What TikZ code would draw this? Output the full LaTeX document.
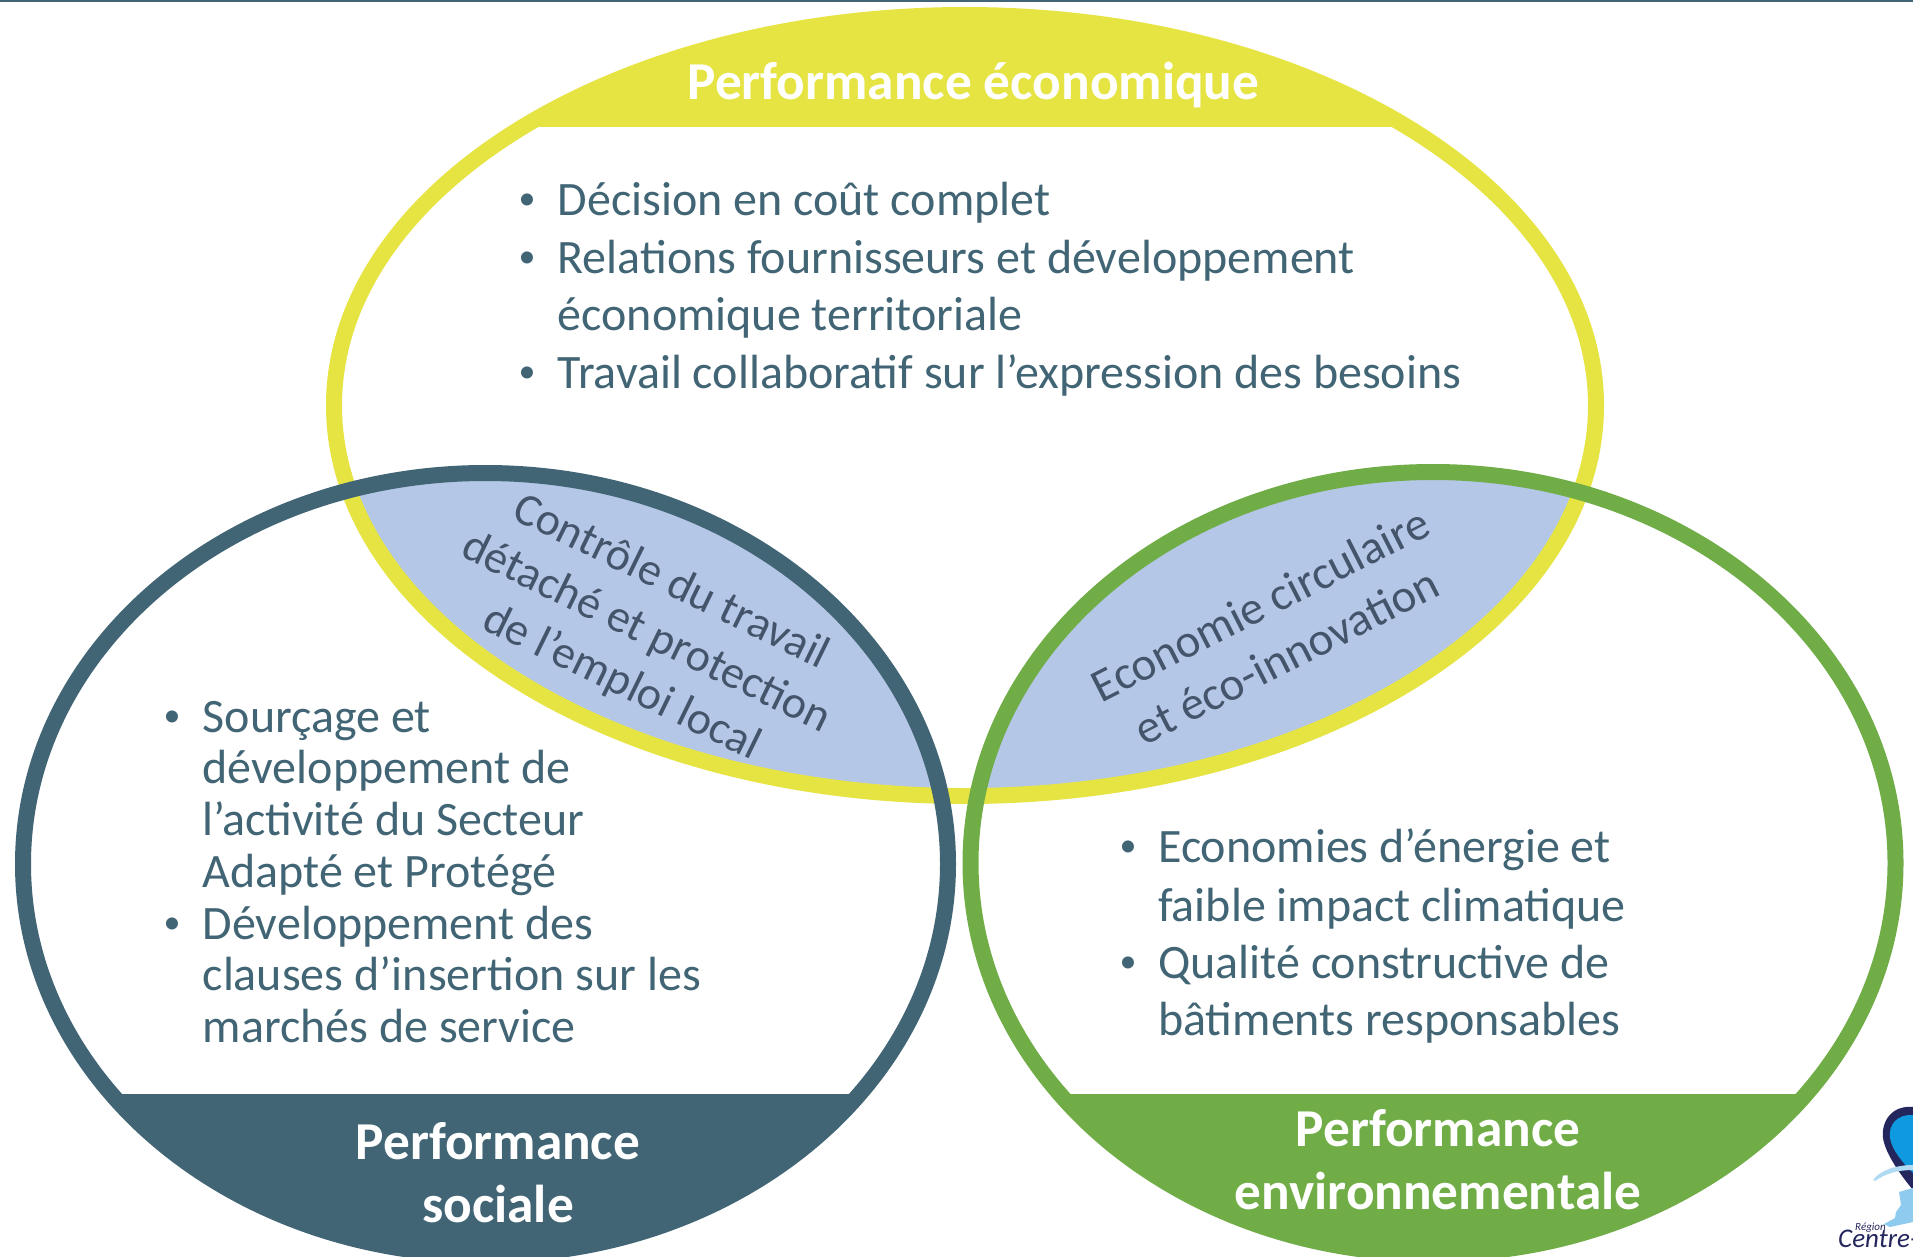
\documentclass[tikz,border=0pt]{standalone}
\usepackage{fontspec}
\setmainfont{Carlito}
\definecolor{teal}{HTML}{416575}
\definecolor{lime}{HTML}{E6E443}
\definecolor{leaf}{HTML}{70AD47}
\definecolor{lens}{HTML}{B4C7E7}
\definecolor{lenstext}{HTML}{44546A}
\definecolor{navy}{HTML}{24265E}
\definecolor{sky}{HTML}{0F9ADF}
\definecolor{pale}{HTML}{8FCBEE}
\tikzset{
  x=1pt,y=-1pt,
  ring/.style={line width=16pt},
  head/.style={text=white,font=\fontsize{53.3}{63}\selectfont\bfseries,align=center,inner sep=0pt},
  listtext/.style={text=teal,font=\fontsize{48}{57.5}\selectfont,anchor=base west,inner sep=0pt},
  bulletmark/.style={text=teal,font=\fontsize{34}{34}\selectfont,anchor=base west,inner sep=0pt},
  lenslabelA/.style={text=lenstext,font=\fontsize{46}{56}\selectfont,align=center,inner sep=0pt},
  lenslabelB/.style={text=lenstext,font=\fontsize{47}{58}\selectfont,align=center,inner sep=0pt},
}
\newcommand{\ellTop}{(965,405.5) ellipse [x radius=631pt, y radius=390.5pt]}
\newcommand{\ellLeft}{(485.5,864) ellipse [x radius=462.5pt, y radius=391pt]}
\newcommand{\ellRight}{(1433,863) ellipse [x radius=462.5pt, y radius=391pt]}
\begin{document}
\begin{tikzpicture}
\clip (0,0) rectangle (1913,1257);
\fill[white] (0,0) rectangle (1913,1257);
\fill[teal] (0,0) rectangle (1913,2);
% lenses
\begin{scope}
  \clip \ellTop;
  \fill[lens] \ellLeft;
  \fill[lens] \ellRight;
\end{scope}
% header and footer bands
\begin{scope}
  \clip \ellTop;
  \fill[lime] (300,0) rectangle (1650,127);
\end{scope}
\begin{scope}
  \clip \ellLeft;
  \fill[teal] (0,1094) rectangle (960,1257);
\end{scope}
\begin{scope}
  \clip \ellRight;
  \fill[leaf] (960,1094) rectangle (1913,1257);
\end{scope}
% rings
\draw[lime,ring] \ellTop;
\draw[teal,ring] \ellLeft;
\draw[leaf,ring] \ellRight;
% headings
\node[head] (ecoHead) at (973.5,85) {Performance économique};
\node[head] (socHead) at (498,1173) {Performance\\sociale};
\node[head] (envHead) at (1438,1160) {Performance\\environnementale};
% top list
\node[bulletmark] (t1b) at (518.5,209.5) {•};
\node[listtext] (t1) at (557.5,215.5) {Décision en coût complet};
\node[bulletmark] (t2b) at (518.5,267.5) {•};
\node[listtext] (t2) at (557.5,273.5) {Relations fournisseurs et développement};
\node[listtext] (t3) at (557.5,330.5) {économique territoriale};
\node[bulletmark] (t4b) at (518.5,382.5) {•};
\node[listtext] (t4) at (557.5,388.5) {Travail collaboratif sur l’expression des besoins};
% left list
\node[bulletmark] (l1b) at (163.5,726) {•};
\node[listtext] (l1) at (202.5,732) {Sourçage et};
\node[listtext] (l2) at (202.5,783.5) {développement de};
\node[listtext] (l3) at (202.5,835.5) {l’activité du Secteur};
\node[listtext] (l4) at (202.5,887) {Adapté et Protégé};
\node[bulletmark] (l5b) at (163.5,933.5) {•};
\node[listtext] (l5) at (202.5,939.5) {Développement des};
\node[listtext] (l6) at (202.5,990.5) {clauses d’insertion sur les};
\node[listtext] (l7) at (202.5,1042.5) {marchés de service};
% right list
\node[bulletmark] (r1b) at (1119.5,856.5) {•};
\node[listtext] (r1) at (1158,862.5) {Economies d’énergie et};
\node[listtext] (r2) at (1158,921) {faible impact climatique};
\node[bulletmark] (r3b) at (1119.5,972.5) {•};
\node[listtext] (r3) at (1158,978.5) {Qualité constructive de};
\node[listtext] (r4) at (1158,1035.5) {bâtiments responsables};
% lens labels
\node[lenslabelA,rotate=-26] (lensL) at (646,633) {Contrôle du travail\\détaché et protection\\de l’emploi local};
\node[lenslabelB,rotate=27] (lensR) at (1273,630) {Economie circulaire\\et éco-innovation};
% logo
\fill[navy] (1913,1107) .. controls (1893,1105) and (1881,1120) .. (1883,1138) .. controls (1885,1152) and (1898,1172) .. (1913,1190) -- cycle;
\fill[sky] (1913,1115) .. controls (1898,1114) and (1888,1124) .. (1890,1138) .. controls (1892,1150) and (1902,1162) .. (1913,1173) -- cycle;
\fill[pale!70!white] (1873,1180) .. controls (1880,1170) and (1897,1165) .. (1913,1165) -- (1913,1170) .. controls (1897,1170) and (1885,1174) .. (1875,1181) -- cycle;
\fill[pale] (1899,1192) -- (1913,1188) -- (1913,1222) -- (1890,1227) -- (1884,1224) -- (1895,1218) -- (1896,1212) -- (1901,1205) -- cycle;
\node[text=navy,font=\fontsize{11}{11}\selectfont\itshape,anchor=base west,inner sep=0pt] (logoA) at (1855,1230) {Région};
\node[text=navy,font=\fontsize{27}{27}\selectfont\itshape,anchor=base west,inner sep=0pt] (logoB) at (1838,1247) {Centre-};
\end{tikzpicture}
\end{document}
